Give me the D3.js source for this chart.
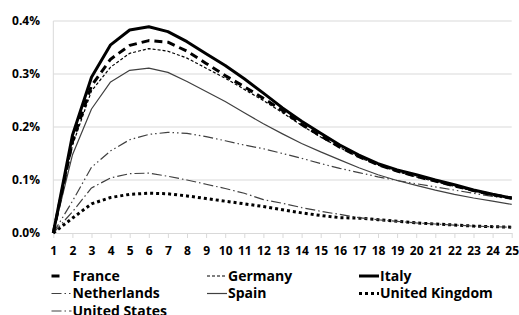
<!DOCTYPE html>
<html>
<head>
<meta charset="utf-8">
<script src="https://cdn.jsdelivr.net/npm/d3@7"></script>
<style>
  html, body { margin: 0; padding: 0; background: #fff; }
  svg { display: block; }
  text { font-family: "Open Sans", "Liberation Sans", sans-serif; font-weight: bold; fill: #000; }
</style>
</head>
<body>
<svg id="chart" width="519" height="315"></svg>
<script>
// ---- data (values in percent) ----
const periods = d3.range(1, 26);
const yTicks = [0, 0.1, 0.2, 0.3, 0.4];

const france      = [0, 0.172, 0.278, 0.328, 0.354, 0.363, 0.360, 0.343, 0.320, 0.297, 0.276, 0.254, 0.231, 0.205, 0.183, 0.162, 0.144, 0.129, 0.117, 0.107, 0.098, 0.089, 0.080, 0.072, 0.066];
const germany     = [0, 0.165, 0.268, 0.313, 0.339, 0.348, 0.343, 0.330, 0.311, 0.292, 0.271, 0.250, 0.227, 0.203, 0.181, 0.161, 0.143, 0.128, 0.116, 0.106, 0.097, 0.088, 0.079, 0.071, 0.065];
const italy       = [0, 0.184, 0.294, 0.355, 0.383, 0.389, 0.380, 0.361, 0.338, 0.316, 0.291, 0.264, 0.236, 0.211, 0.188, 0.166, 0.147, 0.131, 0.119, 0.110, 0.100, 0.091, 0.081, 0.073, 0.066];
const netherlands = [0, 0.060, 0.124, 0.155, 0.176, 0.186, 0.190, 0.188, 0.182, 0.174, 0.166, 0.159, 0.150, 0.141, 0.131, 0.122, 0.114, 0.106, 0.099, 0.093, 0.087, 0.081, 0.075, 0.069, 0.064];
const spain       = [0, 0.147, 0.234, 0.285, 0.307, 0.311, 0.303, 0.286, 0.267, 0.248, 0.227, 0.206, 0.187, 0.169, 0.153, 0.138, 0.123, 0.110, 0.099, 0.090, 0.081, 0.073, 0.066, 0.060, 0.054];
const unitedKingdom = [0, 0.028, 0.055, 0.067, 0.073, 0.075, 0.074, 0.070, 0.065, 0.060, 0.055, 0.050, 0.044, 0.038, 0.033, 0.029, 0.028, 0.025, 0.022, 0.019, 0.017, 0.015, 0.013, 0.012, 0.011];
const unitedStates  = [0, 0.040, 0.085, 0.104, 0.112, 0.113, 0.107, 0.100, 0.092, 0.084, 0.075, 0.063, 0.056, 0.048, 0.041, 0.035, 0.029, 0.025, 0.022, 0.019, 0.017, 0.015, 0.013, 0.012, 0.011];

const seriesNames = ["France", "Germany", "Italy", "Netherlands", "Spain", "United Kingdom", "United States"];
const seriesValues = [france, germany, italy, netherlands, spain, unitedKingdom, unitedStates];

// ---- styles ----
const styles = {
  "France":         { color: "#000", width: 3,    dash: "8,5" },
  "Germany":        { color: "#000", width: 1.2,  dash: "3,2" },
  "Italy":          { color: "#000", width: 3,    dash: null },
  "Netherlands":    { color: "#404040", width: 1.2, dash: "10,3,1.5,3,1.5,3" },
  "Spain":          { color: "#404040", width: 1.2, dash: null },
  "United Kingdom": { color: "#000", width: 3,    dash: "3,3" },
  "United States":  { color: "#404040", width: 1.2, dash: "10,3,1.5,3" }
};

const svg = d3.select("#chart");
const plotLeft = 53.3, plotRight = 511.7, plotTop = 21, plotBottom = 233;

const x = d3.scalePoint().domain(periods).range([plotLeft, plotRight]);
const y = d3.scaleLinear().domain([0, 0.4]).range([plotBottom, plotTop]);

// gridlines
svg.append("g").selectAll("line").data(yTicks.slice(1)).join("line")
  .attr("x1", plotLeft).attr("x2", plotRight)
  .attr("y1", d => y(d)).attr("y2", d => y(d))
  .attr("stroke", "#d9d9d9").attr("stroke-width", 1);

// left axis line
svg.append("line").attr("x1", plotLeft).attr("x2", plotLeft).attr("y1", plotTop).attr("y2", plotBottom)
  .attr("stroke", "#d9d9d9").attr("stroke-width", 1);

// y axis labels
const yAxis = d3.axisLeft(y).tickValues(yTicks).tickSize(0).tickPadding(0)
  .tickFormat(d => d.toFixed(1) + "%");
const gy = svg.append("g").attr("transform", `translate(${40},0)`).call(yAxis);
gy.select(".domain").remove();
gy.selectAll("text").attr("font-size", 12).attr("font-family", "'Open Sans', sans-serif")
  .attr("font-weight", "bold").attr("fill", "#000");

// x axis
const xAxis = d3.axisBottom(x).tickSizeInner(5).tickSizeOuter(0).tickPadding(8.5);
const gx = svg.append("g").attr("transform", `translate(0,${plotBottom})`).call(xAxis);
gx.select(".domain").attr("stroke", "#d9d9d9");
gx.selectAll(".tick line").attr("stroke", "#d9d9d9");
gx.selectAll("text").attr("font-size", 12).attr("font-family", "'Open Sans', sans-serif")
  .attr("font-weight", "bold").attr("fill", "#000");

// lines
const line = d3.line().x((d, i) => x(periods[i])).y(d => y(d));
const drawOrder = ["United Kingdom", "United States", "Netherlands", "Spain", "Germany", "France", "Italy"];
drawOrder.forEach(name => {
  const vals = seriesValues[seriesNames.indexOf(name)];
  const s = styles[name];
  svg.append("path").datum(vals)
    .attr("d", line)
    .attr("fill", "none")
    .attr("stroke", s.color)
    .attr("stroke-width", s.width)
    .attr("stroke-dasharray", s.dash)
    .attr("stroke-linejoin", "round");
});

// legend
const legendCols = [51.5, 207, 359];
const legendRows = [276, 293.5, 311];
seriesNames.forEach((name, i) => {
  const col = i % 3, row = Math.floor(i / 3);
  const lx = legendCols[col], ly = legendRows[row];
  const s = styles[name];
  const len = name === "France" ? 10 : 20;
  svg.append("line")
    .attr("x1", lx).attr("x2", lx + len)
    .attr("y1", ly).attr("y2", ly)
    .attr("stroke", s.color).attr("stroke-width", s.width)
    .attr("stroke-dasharray", s.dash);
  svg.append("text")
    .attr("x", col === 0 ? lx + 21 : lx + 21)
    .attr("y", ly)
    .attr("dy", "0.35em")
    .attr("font-size", 14)
    .text(name);
});
</script>
</body>
</html>
